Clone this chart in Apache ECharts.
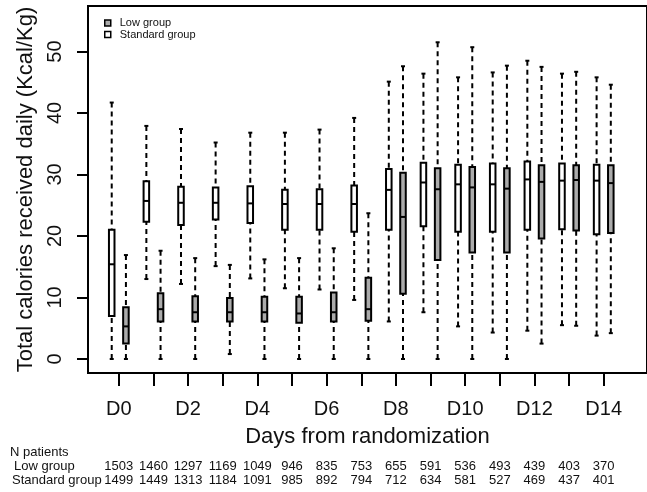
<!DOCTYPE html>
<html>
<head>
<meta charset="utf-8">
<script src="https://cdn.jsdelivr.net/npm/echarts@6/dist/echarts.min.js"></script>
<style>
  html, body { margin: 0; padding: 0; background: #fff; }
  #chart { width: 647px; height: 492px; }
</style>
</head>
<body>
<div id="chart"></div>
<script>
// Days after randomization (one tick per day, labels on even days)
const days = [0, 1, 2, 3, 4, 5, 6, 7, 8, 9, 10, 11, 12, 13, 14];
const labelledDays = [0, 2, 4, 6, 8, 10, 12, 14];
const yTicks = [0, 10, 20, 30, 40, 50];

// Standard group: whisker low, Q1, median, Q3, whisker high (Kcal/Kg)
const stdLow  = [0, 13.0, 12.2, 15.1, 13.1, 11.5, 11.3, 9.6, 6.1, 7.6, 5.3, 4.3, 4.6, 5.5, 3.8];
const stdQ1   = [7.0, 22.3, 21.8, 22.7, 22.1, 21.0, 21.0, 20.7, 21.0, 21.6, 20.7, 20.7, 21.0, 21.1, 20.3];
const stdMed  = [15.4, 25.7, 25.4, 25.4, 25.3, 25.2, 25.2, 25.2, 27.5, 28.7, 28.4, 28.4, 29.2, 29.0, 29.0];
const stdQ3   = [21.0, 28.9, 28.0, 27.9, 28.1, 27.5, 27.6, 28.2, 30.9, 31.9, 31.6, 31.8, 32.1, 31.8, 31.6];
const stdHigh = [41.7, 37.9, 37.4, 35.2, 36.8, 36.8, 37.3, 39.2, 45.1, 46.4, 45.8, 46.6, 48.5, 46.4, 45.8];

// Low group: whisker low, Q1, median, Q3, whisker high (Kcal/Kg)
const lowLow  = [0, 0, 0, 0.8, 0, 0, 0, 0, 0, 0, 0, 0, 2.5, 5.4, 4.2];
const lowQ1   = [2.5, 6.1, 6.1, 6.1, 6.1, 5.9, 6.1, 6.2, 10.6, 16.1, 17.3, 17.3, 19.6, 20.9, 20.5];
const lowMed  = [5.3, 8.1, 7.6, 7.6, 7.6, 7.4, 7.6, 8.1, 23.1, 27.6, 27.9, 27.7, 28.8, 29.1, 28.6];
const lowQ3   = [8.4, 10.7, 10.2, 9.9, 10.1, 10.1, 10.8, 13.2, 30.3, 31.0, 31.2, 31.0, 31.5, 31.5, 31.5];
const lowHigh = [16.9, 17.6, 16.4, 15.3, 16.2, 16.4, 18.0, 23.7, 47.6, 51.5, 50.7, 47.7, 47.5, 46.7, 44.6];

// Patients still included on each day
const lowN = [1503, 1460, 1297, 1169, 1049, 946, 835, 753, 655, 591, 536, 493, 439, 403, 370];
const stdN = [1499, 1449, 1313, 1184, 1091, 985, 892, 794, 712, 634, 581, 527, 469, 437, 401];

const FONT = "'Liberation Sans', Arial, Helvetica, sans-serif";
const GREY = '#ababab';
const X_MIN = -0.89, X_MAX = 15.25;
const Y_MIN = -2.28, Y_MAX = 57.4;

function rows(lo, q1, md, q3, hi) {
  return days.map((d, i) => [d, lo[i], q1[i], md[i], q3[i], hi[i]]);
}

// Draws one box: dashed whiskers with solid staples, box and median bar
function boxRenderer(shift, fill) {
  return function (params, api) {
    const d = api.value(0) + shift;
    const lo = api.coord([d, api.value(1)]);
    const q1 = api.coord([d, api.value(2)]);
    const md = api.coord([d, api.value(3)]);
    const q3 = api.coord([d, api.value(4)]);
    const hi = api.coord([d, api.value(5)]);
    const halfBox = api.size([0.08, 0])[0];
    const halfCap = api.size([0.058, 0])[0];
    const x = lo[0];
    const dash = { stroke: '#000', lineWidth: 2, lineDash: [5, 4], fill: null };
    const solid = { stroke: '#000', lineWidth: 2, fill: null };
    return {
      type: 'group',
      children: [
        { type: 'line', shape: { x1: x, y1: hi[1], x2: x, y2: q3[1] }, style: dash },
        { type: 'line', shape: { x1: x, y1: lo[1], x2: x, y2: q1[1] }, style: dash },
        { type: 'line', shape: { x1: x - halfCap, y1: hi[1], x2: x + halfCap, y2: hi[1] }, style: solid },
        { type: 'line', shape: { x1: x - halfCap, y1: lo[1], x2: x + halfCap, y2: lo[1] }, style: solid },
        { type: 'rect', shape: { x: x - halfBox, y: q3[1], width: halfBox * 2, height: q1[1] - q3[1] },
          style: { fill: fill, stroke: '#000', lineWidth: 2 } },
        { type: 'line', shape: { x1: x - halfBox, y1: md[1], x2: x + halfBox, y2: md[1] }, style: solid }
      ]
    };
  };
}

function countAxis(counts, offset) {
  return {
    type: 'value', min: X_MIN, max: X_MAX, position: 'bottom', offset: offset,
    axisLine: { show: false, onZero: false }, axisTick: { show: false }, splitLine: { show: false },
    axisLabel: {
      customValues: days, margin: 8, fontSize: 13, fontFamily: FONT, color: '#111',
      formatter: v => String(counts[Math.round(v)])
    }
  };
}

const chart = echarts.init(document.getElementById('chart'), null, { renderer: 'canvas' });
chart.setOption({
  animation: false,
  backgroundColor: '#fff',
  textStyle: { fontFamily: FONT },
  grid: { left: 88, top: 6, right: -7, bottom: 119, show: true, borderColor: '#000', borderWidth: 2, backgroundColor: 'transparent' },
  legend: {
    orient: 'vertical', left: 99, top: 12, itemWidth: 6, itemHeight: 6, itemGap: -0.5,
    icon: 'rect',
    textStyle: { fontSize: 11, fontFamily: FONT, color: '#111', padding: [0, 0, 0, 4], lineHeight: 12 },
    data: [
      { name: 'Low group', itemStyle: { color: GREY, borderColor: '#000', borderWidth: 1.5 } },
      { name: 'Standard group', itemStyle: { color: '#fff', borderColor: '#000', borderWidth: 1.5 } }
    ]
  },
  xAxis: [
    {
      type: 'value', min: X_MIN, max: X_MAX, position: 'bottom',
      name: 'Days from randomization', nameLocation: 'middle', nameGap: 53,
      nameTextStyle: { fontSize: 22, fontFamily: FONT, color: '#111' },
      axisLine: { show: false, onZero: false }, splitLine: { show: false },
      axisTick: { customValues: days, length: 13, lineStyle: { color: '#000', width: 2 } },
      axisLabel: { customValues: labelledDays, margin: 26, fontSize: 20, fontFamily: FONT, color: '#111',
        formatter: v => 'D' + v }
    },
    countAxis(lowN, 79),
    countAxis(stdN, 93)
  ],
  yAxis: {
    type: 'value', min: Y_MIN, max: Y_MAX, position: 'left',
    name: 'Total calories received daily (Kcal/Kg)', nameLocation: 'middle', nameGap: 48,
    nameTextStyle: { fontSize: 22, fontFamily: FONT, color: '#111' },
    axisLine: { show: false, onZero: false }, splitLine: { show: false },
    axisTick: { customValues: yTicks, length: 11, lineStyle: { color: '#000', width: 2 } },
    axisLabel: { customValues: yTicks, rotate: 90, margin: 23, fontSize: 20, fontFamily: FONT, color: '#111' }
  },
  graphic: [
    { type: 'text', left: 10, top: 446, style: { text: 'N patients', fontSize: 13, fontFamily: FONT, fill: '#111' } },
    { type: 'text', left: 14, top: 460, style: { text: 'Low group', fontSize: 13, fontFamily: FONT, fill: '#111' } },
    { type: 'text', left: 12, top: 474, style: { text: 'Standard group', fontSize: 13, fontFamily: FONT, fill: '#111' } }
  ],
  series: [
    {
      name: 'Low group', type: 'custom', xAxisIndex: 0, yAxisIndex: 0,
      itemStyle: { color: GREY },
      encode: { x: 0, y: [1, 2, 3, 4, 5] },
      renderItem: boxRenderer(0.205, GREY),
      data: rows(lowLow, lowQ1, lowMed, lowQ3, lowHigh)
    },
    {
      name: 'Standard group', type: 'custom', xAxisIndex: 0, yAxisIndex: 0,
      itemStyle: { color: '#fff' },
      encode: { x: 0, y: [1, 2, 3, 4, 5] },
      renderItem: boxRenderer(-0.205, '#fff'),
      data: rows(stdLow, stdQ1, stdMed, stdQ3, stdHigh)
    }
  ]
});
</script>
</body>
</html>
